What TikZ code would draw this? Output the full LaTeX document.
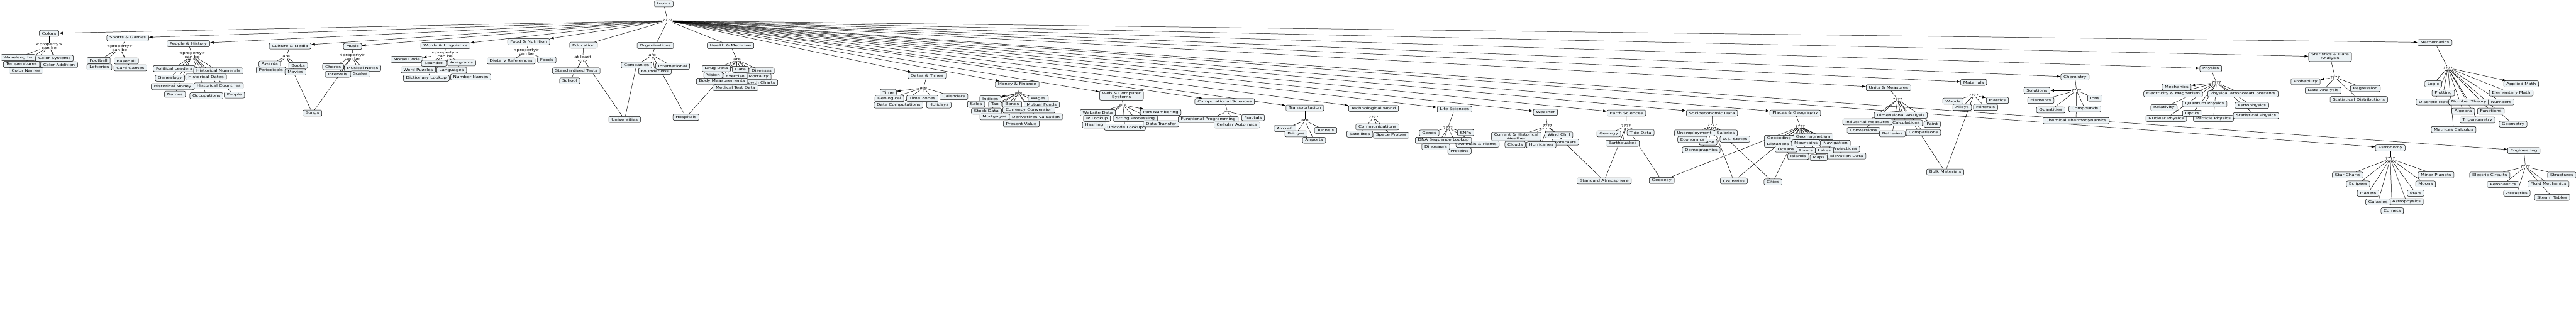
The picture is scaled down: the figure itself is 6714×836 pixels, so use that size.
\documentclass[tikz,border=0pt]{standalone}
\usepackage{fontspec}
\setmainfont{DejaVu Sans}[FakeStretch=1.3]
\usetikzlibrary{arrows.meta}
\pgfdeclarelayer{bg}
\pgfsetlayers{bg,main}
\definecolor{boxfill}{RGB}{236,242,245}
\begin{document}
\begin{tikzpicture}[x=1pt,y=-1pt,
 box/.style={draw=black, line width=0.8pt, fill=boxfill, rounded corners=3.5pt, inner xsep=7pt, inner ysep=3pt, minimum height=16pt, align=center, font=\fontsize{9}{9.8}\selectfont},
 lk/.style={inner sep=1pt, align=center, font=\fontsize{9}{9.8}\selectfont},
 ln/.style={line width=0.8pt},
 arr/.style={line width=0.8pt, -{Latex[length=10pt,width=7pt]}}]
\useasboundingbox (0,0) rectangle (6714,836);

% root
\node[box] (topics) at (1730,10) {topics};
\node[lk] (root) at (1740,54) {????};

% Colors
\node[box] (col) at (128,87) {Colors};
\node[lk] (colL) at (128,120) {<property>\\can be};
\node[box] (wav) at (47,150) {Wavelengths};
\node[box] (csys) at (142,152) {Color Systems};
\node[box] (temp) at (56,168) {Temperatures};
\node[box] (cadd) at (154,169) {Color Addition};
\node[box] (cnam) at (68,184) {Color Names};

% Sports
\node[box] (spo) at (333,99) {Sports \& Games};
\node[lk] (spoL) at (312,125) {<property>\\can be};
\node[box] (foot) at (257,158) {Football};
\node[box] (base) at (329,159) {Baseball};
\node[box] (lott) at (259,175) {Lotteries};
\node[box] (card) at (340,177) {Card Games};

% People
\node[box] (peo) at (491,114) {People \& History};
\node[lk] (peoL) at (501,144) {<property>\\can be};
\node[box] (pol) at (454,179) {Political Leaders};
\node[box] (hnum) at (569,185) {Historical Numerals};
\node[box] (gen) at (443,204) {Genealogy};
\node[box] (hdat) at (537,201) {Historical Dates};
\node[box] (hmon) at (450,226) {Historical Money};
\node[box] (hcou) at (570,224) {Historical Countries};
\node[box] (nam) at (456,246) {Names};
\node[box] (occ) at (538,250) {Occupations};
\node[box] (ppl) at (611,248) {People};

% Culture
\node[box] (cul) at (756,120) {Culture \& Media};
\node[lk] (culL) at (746,148) {are};
\node[box] (awa) at (703,167) {Awards};
\node[box] (per) at (706,183) {Periodicals};
\node[box] (boo) at (777,171) {Books};
\node[box] (mov) at (770,188) {Movies};
\node[box] (son) at (814,295) {Songs};

% Music
\node[box] (mus) at (919,121) {Music};
\node[lk] (musL) at (918,148) {<property>\\can be};
\node[box] (cho) at (868,174) {Chords};
\node[box] (mno) at (945,178) {Musical Notes};
\node[box] (int) at (880,194) {Intervals};
\node[box] (sca) at (939,193) {Scales};

% Words
\node[box] (wor) at (1161,119) {Words \& Linguistics};
\node[lk] (worL) at (1160,142) {<property>\\can be};
\node[box] (mor) at (1060,155) {Morse Code};
\node[box] (sou) at (1131,165) {Soundex};
\node[box] (wpu) at (1090,182) {Word Puzzles};
\node[box] (dic) at (1111,204) {Dictionary Lookup};
\node[box] (ana) at (1203,164) {Anagrams};
\node[box] (lan) at (1177,183) {Languages};
\node[box] (nna) at (1227,201) {Number Names};

% Food
\node[box] (foo) at (1378,109) {Food \& Nutrition};
\node[lk] (fooL) at (1372,135) {<property>\\can be};
\node[box] (die) at (1332,159) {Dietary References};
\node[box] (fds) at (1425,156) {Foods};

% Education
\node[box] (edu) at (1521,118) {Education};
\node[lk] (eduL) at (1519,153) {at least\\<n>};
\node[box] (std) at (1502,185) {Standardized Tests};
\node[box] (sch) at (1485,211) {School};
\node[box] (uni) at (1628,312) {Universities};

% Organizations
\node[box] (org) at (1708,119) {Organizations};
\node[lk] (orgL) at (1700,144) {are};
\node[box] (com) at (1659,170) {Companies};
\node[box] (fou) at (1707,186) {Foundations};
\node[box] (inl) at (1753,173) {International};
\node[box] (hos) at (1788,306) {Hospitals};

% Health
\node[box] (hea) at (1904,119) {Health \& Medicine};
\node[lk] (heaL) at (1921,156) {are};
\node[box] (drd) at (1867,179) {Drug Data};
\node[box] (dat) at (1930,181) {Data};
\node[box] (dis) at (1985,185) {Diseases};
\node[box] (mrt) at (1977,200) {Mortality};
\node[box] (gro) at (1978,216) {Growth Charts};
\node[box] (vis) at (1859,196) {Vision};
\node[box] (exe) at (1916,199) {Exercise};
\node[box] (bod) at (1882,212) {Body Measurements};
\node[box] (mtd) at (1917,229) {Medical Test Data};

% Dates
\node[box] (dts) at (2416,197) {Dates \& Times};
\node[lk] (dtsL) at (2407,229) {are};
\node[box] (tim) at (2315,241) {Time};
\node[box] (geol) at (2318,257) {Geological};
\node[box] (tzo) at (2404,257) {Time Zones};
\node[box] (cal) at (2486,252) {Calendars};
\node[box] (dco) at (2342,274) {Date Computations};
\node[box] (hol) at (2447,274) {Holidays};

% Money
\node[box] (mon) at (2651,220) {Money \& Finance};
\node[lk] (monL) at (2655,243) {are};
\node[box] (ind) at (2581,258) {Indices};
\node[box] (wag) at (2706,257) {Wages};
\node[box] (sal) at (2544,272) {Sales};
\node[box] (tax) at (2593,272) {Tax};
\node[box] (bon) at (2638,272) {Bonds};
\node[box] (mfu) at (2715,273) {Mutual Funds};
\node[box] (sto) at (2571,290) {Stock Data};
\node[box] (cur) at (2682,287) {Currency Conversion};
\node[box] (mtg) at (2592,305) {Mortgages};
\node[box] (der) at (2700,305) {Derivatives Valuation};
\node[box] (pva) at (2662,323) {Present Value};

% Web
\node[box] (web) at (2923,249) {Web \& Computer\\Systems};
\node[lk] (webL) at (2927,274) {are};
\node[box] (wsd) at (2861,294) {Website Data};
\node[box] (prt) at (3025,293) {Port Numbering};
\node[box] (ipl) at (2859,309) {IP Lookup};
\node[box] (ucl) at (2932,332) {Unicode Lookup};
\node[box] (spr) at (2959,309) {String Processing};
\node[box] (has) at (2852,326) {Hashing};
\node[box] (dtr) at (3026,323) {Data Transfer};

% Computational
\node[box] (cmp) at (3192,265) {Computational Sciences};
\node[lk] (cmpL) at (3199,291) {are};
\node[box] (fpr) at (3149,312) {Functional Programming};
\node[box] (fra) at (3266,307) {Fractals};
\node[box] (cel) at (3224,326) {Cellular Automata};

% Transportation
\node[box] (tra) at (3401,282) {Transportation};
\node[lk] (traL) at (3401,315) {are};
\node[box] (air) at (3349,335) {Aircraft};
\node[box] (bri) at (3378,349) {Bridges};
\node[box] (tun) at (3455,340) {Tunnels};
\node[box] (apt) at (3425,366) {Airports};

% Technological
\node[box] (tec) at (3580,283) {Technological World};
\node[lk] (tecL) at (3580,306) {????};
\node[box] (cmm) at (3590,331) {Communications};
\node[box] (sat) at (3544,350) {Satellites};
\node[box] (spp) at (3626,353) {Space Probes};

% Life
\node[box] (lif) at (3791,285) {Life Sciences};
\node[lk] (lifL) at (3774,333) {????};
\node[box] (gns) at (3725,347) {Genes};
\node[box] (snp) at (3820,346) {SNPs};
\node[box] (anp) at (3851,376) {Animals \& Plants};
\node[box] (dna) at (3762,366) {DNA Sequence Lookup};
\node[box] (pro) at (3804,394) {Proteins};
\node[box] (din) at (3742,383) {Dinosaurs};

% Weather
\node[box] (wea) at (4028,293) {Weather};
\node[lk] (weaL) at (4033,329) {????};
\node[box] (chw) at (3952,356) {Current \& Historical\\Weather};
\node[box] (wch) at (4063,352) {Wind Chill};
\node[box] (fcs) at (4080,371) {Forecasts};
\node[box] (clo) at (3949,377) {Clouds};
\node[box] (hur) at (4017,378) {Hurricanes};
\node[box] (satm) at (4181,472) {Standard Atmosphere};

% Earth
\node[box] (ear) at (4239,295) {Earth Sciences};
\node[lk] (earL) at (4238,329) {????};
\node[box] (gly) at (4193,349) {Geology};
\node[box] (tid) at (4276,346) {Tide Data};
\node[box] (eqk) at (4229,374) {Earthquakes};
\node[box] (geod) at (4331,471) {Geodesy};

% Socioeconomic
\node[box] (soc) at (4462,295) {Socioeconomic Data};
\node[lk] (socL) at (4463,327) {????};
\node[box] (une) at (4416,347) {Unemployment};
\node[box] (sala) at (4498,347) {Salaries};
\node[box] (uss) at (4522,363) {U.S. States};
\node[box] (trd) at (4452,371) {Trade};
\node[box] (eco) at (4411,364) {Economics};
\node[box] (dem) at (4434,391) {Demographics};
\node[box] (ctr) at (4519,472) {Countries};
\node[box] (cit) at (4621,475) {Cities};

% Places
\node[box] (pla) at (4679,295) {Places \& Geography};
\node[lk] (plaL) at (4692,330) {????};
\node[box] (gmg) at (4726,357) {Geomagnetism};
\node[box] (gcd) at (4637,361) {Geocoding};
\node[box] (nav) at (4784,374) {Navigation};
\node[box] (mtn) at (4707,373) {Mountains};
\node[box] (dst) at (4634,376) {Distances};
\node[box] (prj) at (4808,389) {Projections};
\node[box] (riv) at (4706,392) {Rivers};
\node[box] (lak) at (4755,393) {Lakes};
\node[box] (ocn) at (4655,389) {Oceans};
\node[box] (elv) at (4813,407) {Elevation Data};
\node[box] (isl) at (4687,408) {Islands};
\node[box] (map) at (4740,411) {Maps};

% Units
\node[box] (unm) at (4922,229) {Units \& Measures};
\node[lk] (unmL) at (4946,259) {????};
\node[box] (dim) at (4954,301) {Dimensional Analysis};
\node[box] (pnt) at (5036,324) {Paint};
\node[box] (clc) at (4968,321) {Calculations};
\node[box] (inm) at (4867,318) {Industrial Measures};
\node[box] (cnv) at (4857,340) {Conversions};
\node[box] (cmpr) at (5013,346) {Comparisons};
\node[box] (bat) at (4932,349) {Batteries};
\node[box] (blk) at (5070,449) {Bulk Materials};

% Materials
\node[box] (mat) at (5144,215) {Materials};
\node[lk] (matL) at (5144,248) {????};
\node[box] (wds) at (5090,264) {Woods};
\node[box] (pls) at (5206,262) {Plastics};
\node[box] (aly) at (5114,280) {Alloys};
\node[box] (min) at (5175,280) {Minerals};

% Chemistry
\node[box] (che) at (5408,201) {Chemistry};
\node[lk] (cheL) at (5412,236) {????};
\node[box] (sol) at (5309,236) {Solutions};
\node[box] (ele) at (5319,262) {Elements};
\node[box] (ion) at (5460,256) {Ions};
\node[box] (qua) at (5345,287) {Quantities};
\node[box] (cpd) at (5434,284) {Compounds};
\node[box] (cth) at (5411,315) {Chemical Thermodynamics};

% Physics
\node[box] (phy) at (5762,179) {Physics};
\node[lk] (phyL) at (5777,216) {????};
\node[box] (mec) at (5673,227) {Mechanics};
\node[box] (elm) at (5664,245) {Electricity \& Magnetism};
\node[box] (pac) at (5846,245) {Physical atronoMatConstants};
\node[box] (rel) at (5640,281) {Relativity};
\node[box] (qph) at (5746,271) {Quantum Physics};
\node[box] (aph) at (5869,275) {Astrophysics};
\node[box] (nph) at (5646,309) {Nuclear Physics};
\node[box] (pph) at (5769,309) {Particle Physics};
\node[box] (opt) at (5714,296) {Optics};
\node[box] (sph) at (5880,302) {Statistical Physics};

% Statistics
\node[box] (sta) at (6073,148) {Statistics \& Data\\Analysis};
\node[lk] (staL) at (6086,202) {????};
\node[box] (prb) at (6009,213) {Probability};
\node[box] (dan) at (6055,236) {Data Analysis};
\node[box] (reg) at (6165,231) {Regression};
\node[box] (sdi) at (6148,260) {Statistical Distributions};

% Mathematics
\node[box] (mth) at (6346,111) {Mathematics};
\node[lk] (mthL) at (6380,177) {????};
\node[box] (lgc) at (6342,219) {Logic};
\node[box] (apm) at (6571,219) {Applied Math};
\node[box] (plt) at (6368,243) {Plotting};
\node[box] (emt) at (6545,243) {Elementary Math};
\node[box] (dsm) at (6345,266) {Discrete Math};
\node[box] (nth) at (6435,266) {Number Theory};
\node[box] (nmb) at (6519,266) {Numbers};
\node[box] (alg) at (6420,290) {Algebra};
\node[box] (fnc) at (6492,290) {Functions};
\node[box] (trg) at (6457,313) {Trigonometry};
\node[box] (gmt) at (6550,324) {Geometry};
\node[box] (mcl) at (6395,338) {Matrices Calculus};

% Astronomy
\node[box] (ast) at (6230,386) {Astronomy};
\node[lk] (astL) at (6230,414) {????};
\node[box] (stc) at (6119,457) {Star Charts};
\node[box] (ecl) at (6146,480) {Eclipses};
\node[box] (pln) at (6172,504) {Planets};
\node[box] (mpl) at (6349,456) {Minor Planets};
\node[box] (mns) at (6322,480) {Moons};
\node[box] (str) at (6296,504) {Stars};
\node[box] (aph2) at (6272,526) {Astrophysics};
\node[box] (gal) at (6198,527) {Galaxies};
\node[box] (cmt) at (6235,550) {Comets};

% Engineering
\node[box] (eng) at (6578,393) {Engineering};
\node[lk] (engL) at (6582,435) {????};
\node[box] (ecc) at (6489,457) {Electric Circuits};
\node[box] (stru) at (6677,457) {Structures};
\node[box] (aer) at (6524,481) {Aeronautics};
\node[box] (flm) at (6642,480) {Fluid Mechanics};
\node[box] (acs) at (6560,504) {Acoustics};
\node[box] (stm) at (6652,515) {Steam Tables};

\begin{pgfonlayer}{bg}
\fill[white] (0,0) rectangle (6714,836);
\draw[ln] (topics) -- (root);
\foreach \c in {col,spo,peo,cul,mus,wor,foo,dts,mon,web,cmp,tra,tec,lif,wea,ear,soc,pla,unm,mat,che,phy,sta,mth,ast,eng}
  \draw[arr] (root) -- (\c);
\foreach \c in {edu,org,hea}
  \draw[ln] (root) -- (\c);
% parent -> link
\foreach \p in {col,spo,peo,cul,mus,wor,foo,edu,org,hea,dts,mon,web,cmp,tra,tec,lif,wea,ear,soc,pla,unm,mat,che,phy,sta,mth,ast,eng}
  \draw[ln] (\p) -- (\p L);
% link -> children
\foreach \c in {wav,csys,temp,cadd,cnam} \draw[ln] (colL) -- (\c);
\foreach \c in {foot,base,lott,card} \draw[ln] (spoL) -- (\c);
\foreach \c in {pol,hnum,gen,hdat,hmon,hcou,nam,occ,ppl} \draw[ln] (peoL) -- (\c);
\foreach \c in {awa,per,boo,mov,son} \draw[ln] (culL) -- (\c);
\foreach \c in {cho,mno,int,sca,son} \draw[ln] (musL) -- (\c);
\draw[arr] (worL) -- (mor);
\foreach \c in {sou,wpu,dic,ana,lan,nna} \draw[ln] (worL) -- (\c);
\foreach \c in {die,fds} \draw[ln] (fooL) -- (\c);
\foreach \c in {std,sch,uni} \draw[ln] (eduL) -- (\c);
\foreach \c in {com,fou,inl,hos} \draw[ln] (orgL) -- (\c);
\draw[ln] (com) -- (uni);
\foreach \c in {drd,dat,dis,vis,exe,mrt,gro,bod,mtd,hos} \draw[ln] (heaL) -- (\c);
\draw[arr] (dtsL) -- (tim);
\foreach \c in {geol,tzo,cal,dco,hol} \draw[ln] (dtsL) -- (\c);
\draw[arr] (monL) -- (ind);
\foreach \c in {wag,sal,tax,bon,mfu,sto,cur,mtg,der,pva} \draw[ln] (monL) -- (\c);
\draw[arr] (webL) -- (prt);
\foreach \c in {wsd,ipl,spr,has,ucl,dtr} \draw[ln] (webL) -- (\c);
\foreach \c in {fpr,fra,cel} \draw[ln] (cmpL) -- (\c);
\foreach \c in {air,bri,tun,apt} \draw[ln] (traL) -- (\c);
\foreach \c in {cmm,sat,spp} \draw[ln] (tecL) -- (\c);
\foreach \c in {gns,snp,dna,anp,din,pro} \draw[ln] (lifL) -- (\c);
\foreach \c in {chw,wch,fcs,clo,hur,satm} \draw[ln] (weaL) -- (\c);
\foreach \c in {gly,tid,eqk,satm,geod} \draw[ln] (earL) -- (\c);
\foreach \c in {une,sala,eco,trd,dem,uss,ctr,cit} \draw[ln] (socL) -- (\c);
\foreach \c in {gcd,gmg,dst,mtn,nav,ocn,riv,lak,prj,isl,map,elv,ctr,cit,geod} \draw[ln] (plaL) -- (\c);
\foreach \c in {dim,inm,clc,pnt,bat,cmpr,cnv,blk} \draw[ln] (unmL) -- (\c);
\draw[arr] (matL) -- (pls);
\foreach \c in {wds,aly,min,blk} \draw[ln] (matL) -- (\c);
\draw[arr] (cheL) -- (sol);
\foreach \c in {ele,ion,qua,cpd,cth} \draw[ln] (cheL) -- (\c);
\draw[arr] (phyL) -- (mec);
\foreach \c in {elm,pac,rel,qph,aph,opt,nph,pph,sph} \draw[ln] (phyL) -- (\c);
\draw[arr] (staL) -- (prb);
\foreach \c in {dan,reg,sdi} \draw[ln] (staL) -- (\c);
\draw[arr] (mthL) -- (apm);
\foreach \c in {lgc,plt,emt,dsm,nth,nmb,alg,fnc,trg,gmt,mcl} \draw[ln] (mthL) -- (\c);
\foreach \c in {stc,ecl,pln,gal,aph2,cmt,str,mns,mpl} \draw[ln] (astL) -- (\c);
\foreach \c in {ecc,stru,aer,flm,acs,stm} \draw[ln] (engL) -- (\c);
\end{pgfonlayer}
\end{tikzpicture}
\end{document}
